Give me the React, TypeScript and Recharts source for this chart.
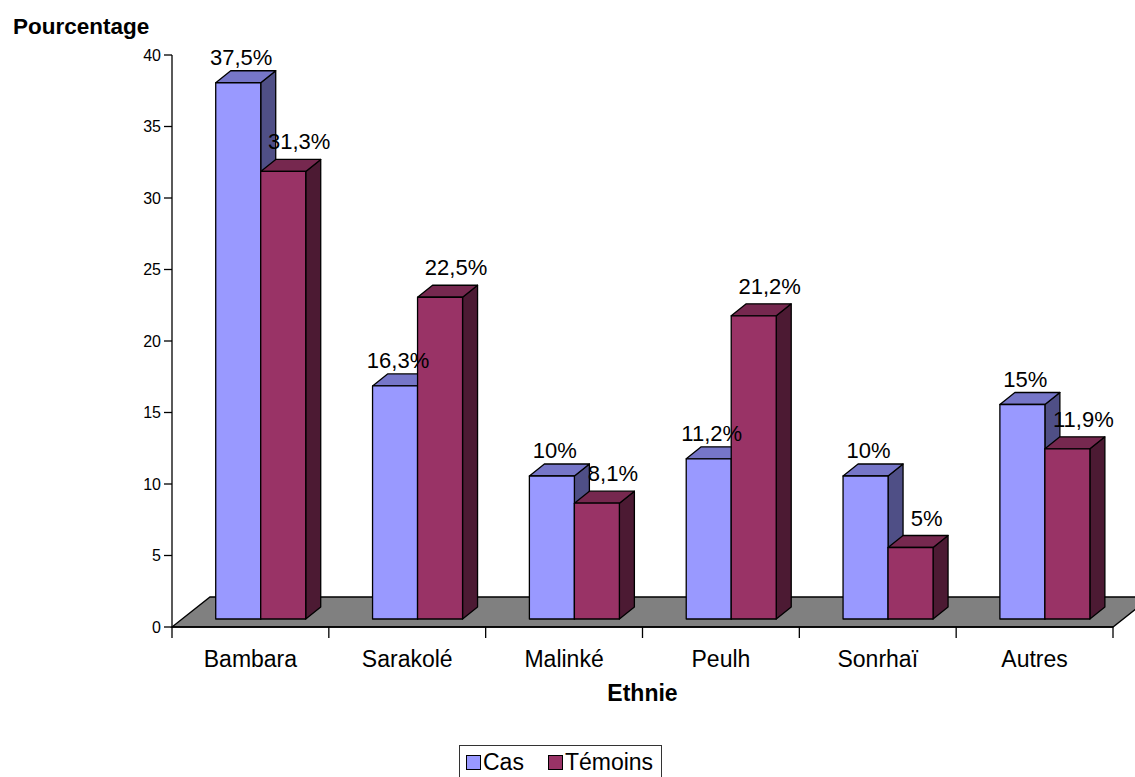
import { BarChart, Bar, XAxis, YAxis, LabelList, ReferenceArea } from 'recharts'

const ethnies = ['Bambara', 'Sarakolé', 'Malinké', 'Peulh', 'Sonrhaï', 'Autres']
const cas = [37.5, 16.3, 10, 11.2, 10, 15]
const temoins = [31.3, 22.5, 8.1, 21.2, 5, 11.9]
const yTicks = [0, 5, 10, 15, 20, 25, 30, 35, 40]

const data = ethnies.map((name, i) => ({ name, cas: cas[i], temoins: temoins[i] }))

const W = 1135
const H = 777
const FONT = '"Liberation Sans", Arial, sans-serif'

// pseudo-3D: front face sits a bit back on the floor, then extruded
const FX = 10
const FY = -8
const DX = 15
const DY = -12
const FLOOR_DX = 38
const FLOOR_DY = -30

const palette = {
  cas: { front: '#9999ff', top: '#7676c8', side: '#4f4f86' },
  temoins: { front: '#993366', top: '#76284f', side: '#4c1a33' },
}

const fmt = (v: number) => `${String(v).replace('.', ',')}%`

function Box3D(colors: { front: string; top: string; side: string }) {
  return (props: any) => {
    const { x, y, width, height } = props
    if (x == null || height == null) return <g />
    const fx = x + FX
    const fy = y + FY
    const top = `${fx},${fy} ${fx + DX},${fy + DY} ${fx + width + DX},${fy + DY} ${fx + width},${fy}`
    const side = `${fx + width},${fy} ${fx + width + DX},${fy + DY} ${fx + width + DX},${fy + height + DY} ${fx + width},${fy + height}`
    return (
      <g stroke="#000" strokeWidth={1.3} strokeLinejoin="round">
        <polygon points={side} fill={colors.side} />
        <polygon points={top} fill={colors.top} />
        <rect x={fx} y={fy} width={width} height={height} fill={colors.front} />
      </g>
    )
  }
}

function valueLabel(shift: number, gap: number) {
  return (props: any) => {
    const { x, y, width, value } = props
    return (
      <text
        x={x + FX + width / 2 + shift}
        y={y + FY + DY - gap}
        textAnchor="middle"
        fontSize={22}
        fill="#000"
      >
        {fmt(value)}
      </text>
    )
  }
}

const Floor = (props: any) => {
  const { x, y, width, height } = props
  const y0 = y + height
  const pts = `${x},${y0} ${x + FLOOR_DX},${y0 + FLOOR_DY} ${x + width + FLOOR_DX},${y0 + FLOOR_DY} ${x + width},${y0}`
  return <polygon points={pts} fill="#808080" stroke="#000" strokeWidth={1.3} />
}

const CategoryTick = (props: any) => {
  const { x, y, payload, index } = props
  const half = payload.offset || (W - 172 - 22) / ethnies.length / 2
  return (
    <g>
      <line x1={x - half} y1={y} x2={x - half} y2={y + 11} stroke="#000" strokeWidth={1.3} />
      {index === ethnies.length - 1 && (
        <line x1={x + half} y1={y} x2={x + half} y2={y + 11} stroke="#000" strokeWidth={1.3} />
      )}
      <text x={x} y={y + 40} textAnchor="middle" fontSize={23} fill="#000">
        {payload.value}
      </text>
    </g>
  )
}

const legendItems = [
  { label: 'Cas', color: palette.cas.front },
  { label: 'Témoins', color: palette.temoins.front },
]

export default function App() {
  return (
    <div style={{ position: 'absolute', left: 0, top: 0, width: W, height: H, fontFamily: FONT, background: '#fff' }}>
      <BarChart
        width={W}
        height={H}
        data={data}
        margin={{ top: 55, right: 22, left: 0, bottom: 0 }}
        barCategoryGap="21.5%"
        barGap={0}
      >
        <ReferenceArea y1={0} y2={1} shape={Floor} ifOverflow="visible" />
        <XAxis
          dataKey="name"
          height={150}
          axisLine={{ stroke: '#000', strokeWidth: 1.3 }}
          tickLine={false}
          tickSize={0}
          tickMargin={0}
          interval={0}
          tick={<CategoryTick />}
          label={{
            content: ({ viewBox }: any) => (
              <text x={viewBox.x + viewBox.width / 2} y={viewBox.y + 74} textAnchor="middle" fontSize={23} fontWeight="bold" fill="#000">
                Ethnie
              </text>
            ),
          }}
        />
        <YAxis
          width={172}
          domain={[0, 40]}
          ticks={yTicks}
          interval={0}
          axisLine={{ stroke: '#000', strokeWidth: 1.3 }}
          tickLine={{ stroke: '#000', strokeWidth: 1.3 }}
          tickSize={8}
          tickMargin={3}
          tick={{ fill: '#000', fontSize: 16 }}
          label={{
            content: ({ viewBox }: any) => (
              <text x={viewBox.x + 13} y={viewBox.y - 21} fontSize={22.5} fontWeight="bold" fill="#000">
                Pourcentage
              </text>
            ),
          }}
        />
        <Bar dataKey="cas" name="Cas" shape={Box3D(palette.cas)} isAnimationActive={false}>
          <LabelList dataKey="cas" content={valueLabel(3, 6)} />
        </Bar>
        <Bar dataKey="temoins" name="Témoins" shape={Box3D(palette.temoins)} isAnimationActive={false}>
          <LabelList dataKey="temoins" content={valueLabel(16, 10)} />
        </Bar>
      </BarChart>
      <div
        style={{
          position: 'absolute',
          left: 459,
          top: 745,
          width: 203,
          height: 40,
          border: '1px solid #333',
          display: 'flex',
          alignItems: 'center',
          boxSizing: 'border-box',
          paddingLeft: 6,
          paddingBottom: 6,
          fontSize: 23,
        }}
      >
        {legendItems.map((it) => (
          <div key={it.label} style={{ display: 'flex', alignItems: 'center', marginRight: 24 }}>
            <span style={{ width: 13, height: 13, background: it.color, border: '1.5px solid #000', marginRight: 2 }} />
            <span>{it.label}</span>
          </div>
        ))}
      </div>
    </div>
  )
}
